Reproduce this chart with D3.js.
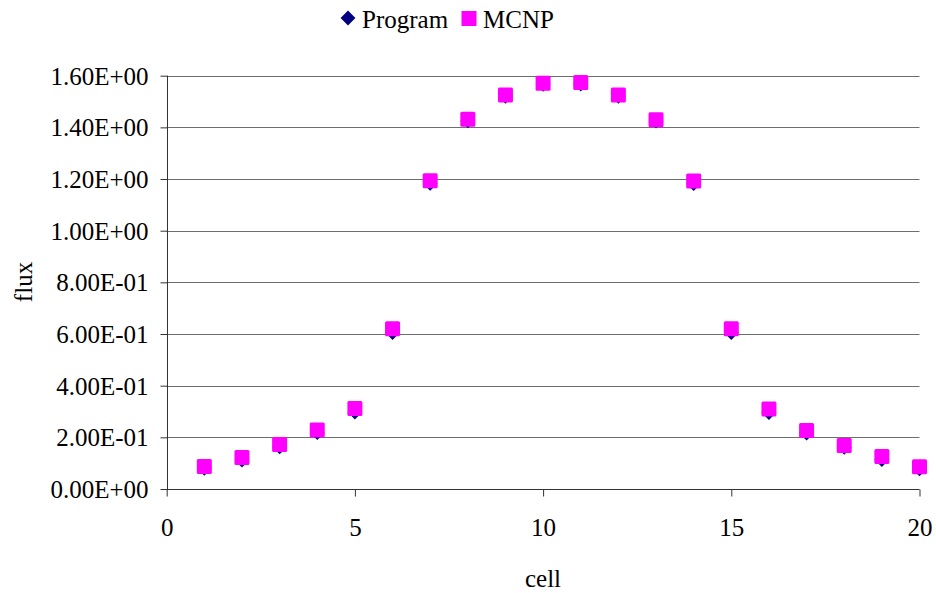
<!DOCTYPE html>
<html>
<head>
<meta charset="utf-8">
<script src="https://cdn.jsdelivr.net/npm/d3@7"></script>
<style>
  html, body { margin: 0; padding: 0; background: #fff; }
  svg { display: block; }
  text { font-family: "Liberation Serif", "Times New Roman", serif; fill: #000; }
</style>
</head>
<body>
<svg id="chart" width="936" height="593"></svg>
<script>
const cells = [1,2,3,4,5,6,7,8,9,10,11,12,13,14,15,16,17,18,19,20];
const programFlux = [0.080, 0.112, 0.163, 0.218, 0.298, 0.606, 1.183, 1.425, 1.520, 1.567,
                     1.568, 1.520, 1.424, 1.182, 0.606, 0.296, 0.216, 0.161, 0.114, 0.078];
const mcnpFlux = [0.087, 0.122, 0.172, 0.228, 0.312, 0.620, 1.193, 1.431, 1.525, 1.571,
                  1.574, 1.525, 1.429, 1.192, 0.620, 0.310, 0.226, 0.168, 0.126, 0.086];
const xTicks = [0, 5, 10, 15, 20];
const yTicks = [0, 0.2, 0.4, 0.6, 0.8, 1.0, 1.2, 1.4, 1.6];
const seriesNames = ["Program", "MCNP"];
const seriesColors = ["#000080", "#FF00FF"];

const svg = d3.select("#chart");
const pL = 166.7, pR = 919.5, pT = 75.7, pB = 489;
const x = d3.scaleLinear().domain([0, 20]).range([pL, pR]);
const y = d3.scaleLinear().domain([0, 1.6]).range([pB, pT]);

function fmtE(v) {
  let s = v.toExponential(2).toUpperCase();
  let m = s.match(/^(-?[\d.]+)E([+-])(\d+)$/);
  return m[1] + "E" + m[2] + m[3].padStart(2, "0");
}

// gridlines
svg.append("g").selectAll("line")
  .data(yTicks.filter(d => d > 0))
  .join("line")
  .attr("x1", pL).attr("x2", pR)
  .attr("y1", d => Math.round(y(d)) + 0.5).attr("y2", d => Math.round(y(d)) + 0.5)
  .attr("stroke", "#6e6e6e").attr("stroke-width", 1);

// y axis
const yAxis = d3.axisLeft(y).tickValues(yTicks).tickSize(7).tickPadding(12).tickFormat(fmtE);
const gy = svg.append("g").attr("transform", `translate(${Math.round(pL) + 0.5},0)`).call(yAxis);
gy.select(".domain").attr("stroke", "#333").attr("d", `M0,${pT}V${pB}`);
gy.selectAll(".tick line").attr("stroke", "#333");
gy.selectAll(".tick text").style("font-family", "Liberation Serif, serif").style("font-size", "25px")
  .attr("dy", "0.34em");

// x axis
const xAxis = d3.axisBottom(x).tickValues(xTicks).tickSize(7).tickPadding(22).tickFormat(d3.format("d"));
const gx = svg.append("g").attr("transform", `translate(0,${Math.round(pB) + 0.5})`).call(xAxis);
gx.select(".domain").attr("stroke", "#333").attr("d", `M${pL},0H${pR}`);
gx.selectAll(".tick line").attr("stroke", "#333");
gx.selectAll(".tick text").style("font-family", "Liberation Serif, serif").style("font-size", "25px");

// axis titles
svg.append("text").attr("x", 543).attr("y", 587).attr("text-anchor", "middle")
  .style("font-size", "25px").text("cell");
svg.append("text").attr("transform", "translate(32,282) rotate(-90)").attr("text-anchor", "middle")
  .style("font-size", "25px").text("flux");

// Program diamonds
const diamond = d3.symbol().type(d3.symbolSquare).size(110);
svg.append("g").selectAll("path")
  .data(cells.map((c, i) => [c, programFlux[i]]))
  .join("path")
  .attr("d", diamond)
  .attr("transform", d => `translate(${x(d[0])},${y(d[1])}) rotate(45)`)
  .attr("fill", seriesColors[0]);

// MCNP squares
const sq = 15;
svg.append("g").selectAll("rect")
  .data(cells.map((c, i) => [c, mcnpFlux[i]]))
  .join("rect")
  .attr("x", d => x(d[0]) - sq / 2).attr("y", d => y(d[1]) - sq / 2)
  .attr("width", sq).attr("height", sq).attr("rx", 1.5)
  .attr("fill", seriesColors[1]);

// legend
const lg = svg.append("g");
lg.append("path").attr("d", d3.symbol().type(d3.symbolSquare).size(110)())
  .attr("transform", "translate(348,18) rotate(45)").attr("fill", seriesColors[0]);
lg.append("text").attr("x", 362).attr("y", 28).style("font-size", "25px").text(seriesNames[0]);
lg.append("rect").attr("x", 461.5).attr("y", 11).attr("width", 15).attr("height", 15)
  .attr("fill", seriesColors[1]);
lg.append("text").attr("x", 483).attr("y", 28).style("font-size", "25px").text(seriesNames[1]);
</script>
</body>
</html>
